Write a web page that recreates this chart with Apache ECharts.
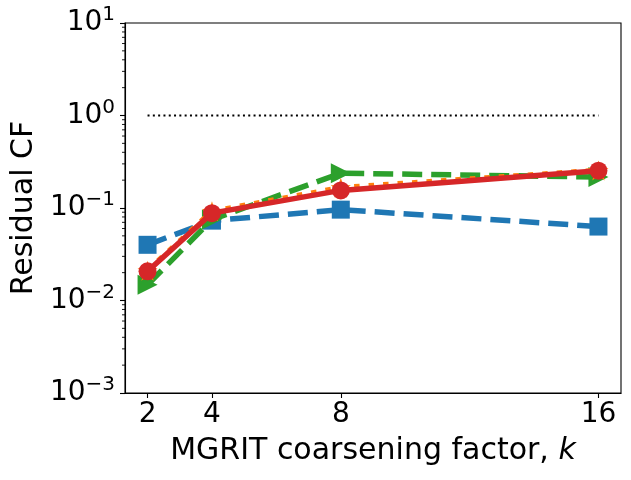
<!DOCTYPE html>
<html>
<head>
<meta charset="utf-8">
<script src="https://cdn.jsdelivr.net/npm/echarts@6/dist/echarts.min.js"></script>
<style>
  html, body { margin: 0; padding: 0; background: #fff; }
  #chart { width: 631px; height: 480px; }
</style>
</head>
<body>
<div id="chart"></div>
<script>
// coarsening factors and residual convergence factors
const factors = [2, 4, 8, 16];
const blueVals = [0.040, 0.073, 0.096, 0.063];
const greenVals = [0.0148, 0.075, 0.238, 0.216];
const orangeVals = [0.021, 0.092, 0.166, 0.255];
const redVals = [0.0207, 0.088, 0.155, 0.253];
const refLine = [[2, 1], [16, 1]];

const xTicks = [2, 4, 8, 16];
const yMinorTicks = [];
[0.001, 0.01, 0.1, 1].forEach((d) => {
  for (let m = 2; m <= 9; m++) yMinorTicks.push(+(d * m).toPrecision(3));
});

const X_MIN = 1.3;
const X_MAX = 16.7;
const FONT = "DejaVu Sans";

const starPath =
  "path://M0,-10 L2.35,-3.24 L9.51,-3.09 L3.8,1.24 L5.88,8.09 L0,4 L-5.88,8.09 L-3.8,1.24 L-9.51,-3.09 L-2.35,-3.24 Z";

function pairs(vals) {
  return factors.map((f, i) => [f, vals[i]]);
}

function expLabel(v) {
  const e = Math.round(Math.log10(v));
  const s = e < 0 ? "\u2212" + Math.abs(e) : String(e);
  return "{b|10}{s|" + s + "}";
}

const chart = echarts.init(document.getElementById("chart"), null, { renderer: "canvas" });

chart.setOption({
  animation: false,
  grid: {
    left: 125,
    right: 10,
    top: 23,
    bottom: 87,
    show: true,
    borderColor: "#000",
    borderWidth: 1.1,
    containLabel: false,
  },
  xAxis: {
    type: "value",
    min: X_MIN,
    max: X_MAX,
    name: "{n|MGRIT coarsening factor, }{i|k}",
    nameLocation: "middle",
    nameGap: 43,
    nameTextStyle: {
      rich: {
        n: { fontFamily: FONT, fontSize: 30, color: "#000" },
        i: { fontFamily: FONT, fontSize: 30, color: "#000", fontStyle: "italic" },
      },
    },
    axisLine: { lineStyle: { color: "#000", width: 1.1 } },
    axisTick: { customValues: xTicks, length: 5, lineStyle: { color: "#000", width: 1.1 } },
    axisLabel: { customValues: xTicks, fontFamily: FONT, fontSize: 28, color: "#000", margin: 8 },
    splitLine: { show: false },
  },
  yAxis: {
    type: "log",
    logBase: 10,
    min: 0.001,
    max: 10,
    splitNumber: 4,
    name: "Residual CF",
    nameLocation: "middle",
    nameRotate: 90,
    nameGap: 86,
    nameTextStyle: { fontFamily: FONT, fontSize: 30, color: "#000" },
    axisLine: { show: true, lineStyle: { color: "#000", width: 1.1 } },
    axisTick: { show: true, length: 5, lineStyle: { color: "#000", width: 1.1 } },
    axisLabel: {
      margin: 10,
      formatter: expLabel,
      rich: {
        b: { fontFamily: FONT, fontSize: 28, color: "#000" },
        s: { fontFamily: FONT, fontSize: 20, color: "#000", padding: [0, 0, 16, 0] },
      },
    },
    splitLine: { show: false },
  },
  series: [
    {
      // minor ticks of the log axis
      type: "custom",
      silent: true,
      clip: false,
      z: 1,
      data: yMinorTicks.map((v) => [X_MIN, v]),
      renderItem: function (params, api) {
        const p = api.coord([api.value(0), api.value(1)]);
        return {
          type: "line",
          shape: { x1: p[0] - 3, y1: p[1], x2: p[0], y2: p[1] },
          style: { stroke: "#000", lineWidth: 0.9 },
        };
      },
    },
    {
      type: "line",
      data: refLine,
      symbol: "none",
      silent: true,
      lineStyle: { color: "#000", width: 2, type: [2, 3.3] },
      z: 2,
    },
    {
      type: "line",
      data: pairs(blueVals),
      symbol: "rect",
      symbolSize: 18,
      itemStyle: { color: "#1f77b4" },
      lineStyle: { color: "#1f77b4", width: 5.5, type: [20, 9] },
      z: 3,
    },
    {
      type: "line",
      data: pairs(greenVals),
      symbol: "triangle",
      symbolRotate: -90,
      symbolSize: 20,
      itemStyle: { color: "#2ca02c" },
      lineStyle: { color: "#2ca02c", width: 5.5, type: [20, 9] },
      z: 4,
    },
    {
      type: "line",
      data: pairs(orangeVals),
      symbol: starPath,
      symbolSize: 20,
      itemStyle: { color: "#ff7f0e" },
      lineStyle: { color: "#ff7f0e", width: 5.5, type: [5.5, 9] },
      z: 5,
    },
    {
      type: "line",
      data: pairs(redVals),
      symbol: "circle",
      symbolSize: 18,
      itemStyle: { color: "#d62728" },
      lineStyle: { color: "#d62728", width: 5.5 },
      z: 6,
    },
  ],
});
</script>
</body>
</html>
